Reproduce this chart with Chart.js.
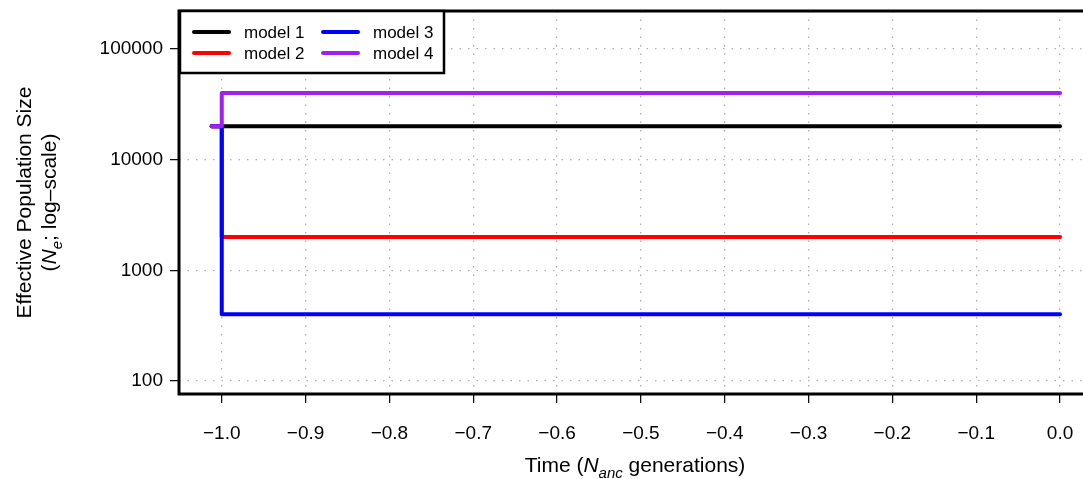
<!DOCTYPE html>
<html>
<head>
<meta charset="utf-8">
<script src="https://cdn.jsdelivr.net/npm/chart.js@4/dist/chart.umd.min.js"></script>
<style>
html,body{margin:0;padding:0;background:#fff;}
canvas{display:block;}
</style>
</head>
<body>
<canvas id="c" width="1083" height="479"></canvas>
<script>
// ---- data ----
const modelLabels = ['model 1', 'model 2', 'model 3', 'model 4'];
const modelColors = ['#000000', '#FF0000', '#0000FF', '#A020F0'];
const stepTimes = [-1.012, -1.0, -1.0, 0.0];
const model1Ne = [20000, 20000, 20000, 20000];
const model2Ne = [20000, 20000, 2000, 2000];
const model3Ne = [20000, 20000, 400, 400];
const model4Ne = [20000, 20000, 40000, 40000];
const xTickValues = [-1.0, -0.9, -0.8, -0.7, -0.6, -0.5, -0.4, -0.3, -0.2, -0.1, 0.0];
const yTickValues = [100, 1000, 10000, 100000];
const xRange = [-1.051, 0.0274];
const yRange = [76.3, 220500];

const seriesNe = [model1Ne, model2Ne, model3Ne, model4Ne];
const datasets = seriesNe.map((ne, i) => ({
  label: modelLabels[i],
  data: stepTimes.map((t, j) => ({x: t, y: ne[j]})),
  borderColor: modelColors[i],
  backgroundColor: modelColors[i],
  borderWidth: 4,
  pointRadius: 0,
  tension: 0,
  fill: false,
  borderCapStyle: 'round',
  borderJoinStyle: 'round',
  order: 4 - i
}));

const FONT = 'Liberation Sans, Arial, Helvetica, sans-serif';

function fmtX(v) {
  const a = Math.abs(v);
  if (a < 1e-9) return '0.0';
  return (v < 0 ? '\u2212' : '') + a.toFixed(1);
}

function drawRich(ctx, parts, size, cx, baseY, rotate) {
  ctx.save();
  ctx.fillStyle = '#000';
  ctx.textBaseline = 'alphabetic';
  ctx.textAlign = 'left';
  const fontOf = p => (p.italic ? 'italic ' : '') + Math.round(p.sub ? size * 0.72 : size) + 'px ' + FONT;
  let total = 0;
  parts.forEach(p => { ctx.font = fontOf(p); total += ctx.measureText(p.text).width; });
  if (rotate) {
    ctx.translate(cx, baseY);
    ctx.rotate(-Math.PI / 2);
    let x = -total / 2;
    parts.forEach(p => {
      ctx.font = fontOf(p);
      ctx.fillText(p.text, x, p.sub ? size * 0.28 : 0);
      x += ctx.measureText(p.text).width;
    });
  } else {
    let x = cx - total / 2;
    parts.forEach(p => {
      ctx.font = fontOf(p);
      ctx.fillText(p.text, x, baseY + (p.sub ? size * 0.28 : 0));
      x += ctx.measureText(p.text).width;
    });
  }
  ctx.restore();
}

const decorPlugin = {
  id: 'decor',
  afterDraw(chart) {
    const ctx = chart.ctx;
    const a = chart.chartArea;
    // frame (box)
    ctx.save();
    ctx.strokeStyle = '#000';
    ctx.lineWidth = 3;
    ctx.lineCap = 'square';
    ctx.beginPath();
    ctx.moveTo(chart.width + 5, a.top);
    ctx.lineTo(a.left, a.top);
    ctx.lineTo(a.left, a.bottom);
    ctx.lineTo(chart.width + 5, a.bottom);
    ctx.stroke();
    ctx.restore();

    // legend
    const lx = a.left + 1, ly = a.top, lw = 264, lh = 62;
    ctx.save();
    ctx.fillStyle = '#fff';
    ctx.fillRect(lx, ly, lw, lh);
    ctx.strokeStyle = '#000';
    ctx.lineWidth = 2.5;
    ctx.strokeRect(lx, ly, lw, lh);
    ctx.font = '17px ' + FONT;
    ctx.textBaseline = 'middle';
    ctx.textAlign = 'left';
    const cols = [lx + 14, lx + 143];
    const rows = [ly + 21, ly + 42];
    chart.data.datasets.forEach((ds, i) => {
      const col = cols[Math.floor(i / 2)];
      const row = rows[i % 2];
      ctx.strokeStyle = ds.borderColor;
      ctx.lineWidth = 4;
      ctx.lineCap = 'round';
      ctx.beginPath();
      ctx.moveTo(col, row);
      ctx.lineTo(col + 35, row);
      ctx.stroke();
      ctx.fillStyle = '#000';
      ctx.fillText(ds.label, col + 50, row + 1);
    });
    ctx.restore();

    // axis titles
    drawRich(ctx, [
      {text: 'Time ('},
      {text: 'N', italic: true},
      {text: 'anc', italic: true, sub: true},
      {text: ' generations)'}
    ], 21, (a.left + a.right) / 2 + 4, 472, false);
    const midY = (a.top + a.bottom) / 2;
    drawRich(ctx, [{text: 'Effective Population Size'}], 21, 31, midY, true);
    drawRich(ctx, [
      {text: '('},
      {text: 'N', italic: true},
      {text: 'e', italic: true, sub: true},
      {text: '; log\u2013scale)'}
    ], 21, 56, midY, true);
  }
};

new Chart(document.getElementById('c'), {
  type: 'line',
  data: {datasets},
  options: {
    responsive: false,
    devicePixelRatio: 1,
    animation: false,
    layout: {padding: {top: 11, right: 0, left: 0, bottom: 0}},
    plugins: {legend: {display: false}, tooltip: {enabled: false}},
    scales: {
      x: {
        type: 'linear',
        min: xRange[0],
        max: xRange[1],
        afterBuildTicks: s => { s.ticks = xTickValues.map(v => ({value: v})); },
        afterFit: s => { s.height = 85; s.paddingLeft = 0; s.paddingRight = 0; },
        ticks: {
          callback: v => fmtX(v),
          font: {family: FONT, size: 19},
          color: '#000',
          padding: 19,
          maxRotation: 0,
          autoSkip: false
        },
        grid: {
          color: '#b0b0b0',
          lineWidth: 1.3,
          tickLength: 9,
          tickColor: '#000',
          tickWidth: 1.2
        },
        border: {display: false, dash: [1.5, 7]}
      },
      y: {
        type: 'logarithmic',
        min: yRange[0],
        max: yRange[1],
        afterBuildTicks: s => { s.ticks = yTickValues.map(v => ({value: v})); },
        afterFit: s => { s.width = 179; s.paddingTop = 0; s.paddingBottom = 0; },
        ticks: {
          callback: v => String(v),
          font: {family: FONT, size: 19},
          color: '#000',
          padding: 7,
          autoSkip: false
        },
        grid: {
          color: '#b0b0b0',
          lineWidth: 1.3,
          tickLength: 9,
          tickColor: '#000',
          tickWidth: 1.2
        },
        border: {display: false, dash: [1.5, 7]}
      }
    }
  },
  plugins: [decorPlugin]
});
</script>
</body>
</html>
